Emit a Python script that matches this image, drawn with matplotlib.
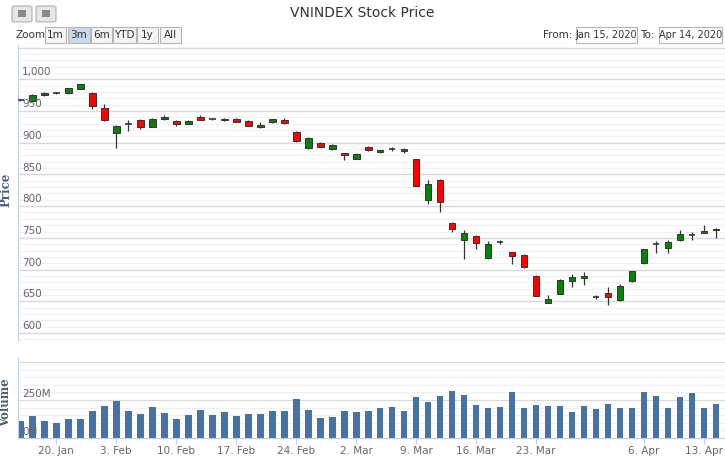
import matplotlib
matplotlib.use("Agg")
import matplotlib.pyplot as plt
from matplotlib.patches import Rectangle, FancyBboxPatch
import numpy as np

opens  = [967,966,975,978,978,985,978,955,915,929,935,925,937,934,930,940,937,938,938,934,924,932,936,917,891,900,890,883,875,894,
          885,890,887,874,810,841,774,746,753,718,743,727,723,690,648,662,682,686,657,663,652,682,710,741,734,746,755,758,764]
closes = [967,975,979,978,986,992,958,935,926,929.5,924,938,941,929,934,936,937,935,933,927,928,937,931,902,908,894,897,880,882,889,
          888,890.5,890,832,835,807,764,757,742,741,743,721,704,659,653,684,689,690,657,656,674,697,732,741,744,756,755,761,762]
highs  = [968,976,980,980,987,993,979.5,960.5,928,935,937,939,943,935,935,943,938,939,939,935,932,938,939,918,909,901,898,884,883,895,
          889,894,891,875,841,842,775,762,754,745,747,728,724,691,660,685,693,696,660,672,678,698,733,745,746,763,760,771,765]
lows   = [966,965,974,976,977,984,953,934,891,918,922,924,936,926,929,935,935,934,932,926,923,931,929,901,890,893,889,872,874,887,
          883,887,884,831,803,791,759,716,733,717,740,709,703,658,647,661,673,675,653,644,651,681,709,726,726,745,746,757,750]
volumes = [111,144,115,100,124,124,179,208,243,175,159,204,164,124,153,184,148,170,144,159,159,179,175,254,184,131,135,179,170,175,
           195,204,175,268,239,274,310,283,219,199,204,305,195,219,208,208,170,208,190,223,199,195,305,274,199,270,294,199,223]
tick_idx = [3,8,13,18,23,28,33,38,43,52,57]
tick_labels = ["20. Jan","3. Feb","10. Feb","17. Feb","24. Feb","2. Mar","9. Mar","16. Mar","23. Mar","6. Apr","13. Apr"]
price_ticks = [600,650,700,750,800,850,900,950,1000]

W,H = 725,458
fig = plt.figure(figsize=(W/100,H/100), dpi=100)
def ax_px(l,t,r,b):
    return fig.add_axes([l/W, 1-b/H, (r-l)/W, (b-t)/H])

x = np.arange(len(opens))
xl = (-0.17, 58.75)
axc = "#C0D0E0"
green, red = "#0A7F0A", "#FF0000"
FS = 7.5

ax = ax_px(18,45,725,340)
ax.set_xlim(*xl); ax.set_ylim(589,1054)
for p in range(590,1054,10):
    ax.axhline(p, color="#d8d8d8" if p%50==0 else "#f0f0f0", lw=1 if p%50==0 else 0.8, zorder=0)
w = 0.58
for i in x:
    o,c,h,l = opens[i],closes[i],highs[i],lows[i]
    col = green if c>=o else red
    ax.vlines(i, l, h, color="#333333", lw=0.9, zorder=2)
    bot, ht = min(o,c), abs(c-o)
    if ht < 1.2:
        ax.hlines((o+c)/2, i-w/2, i+w/2, color="#333333", lw=1.2, zorder=3)
    else:
        ax.add_patch(Rectangle((i-w/2,bot), w, ht, facecolor=col, edgecolor="#333333", lw=0.7, zorder=3))
for p in price_ticks:
    ax.text(0.006, p+3, f"{p:,}", transform=ax.get_yaxis_transform(), fontsize=FS, color="#666666", va="bottom", ha="left")
ax.set_xticks([]); ax.set_yticks([])
for s in ["top","right","bottom"]: ax.spines[s].set_visible(False)
ax.spines["left"].set_color(axc)
ax.patch.set_alpha(0)

av = ax_px(18,358,725,438)
av.set_xlim(*xl); av.set_ylim(0,526)
for v in range(0,526,50):
    av.axhline(v, color="#d8d8d8" if v in (0,250,500) else "#f0f0f0", lw=0.8, zorder=0)
av.bar(x, volumes, width=0.58, color="#4572A7", zorder=2)
av.text(0.006, 255, "250M", transform=av.get_yaxis_transform(), fontsize=FS, color="#666666", va="bottom")
av.text(0.006, 5, "0M", transform=av.get_yaxis_transform(), fontsize=FS, color="#666666", va="bottom", zorder=3)
av.set_yticks([])
av.set_xticks(tick_idx)
av.set_xticklabels(tick_labels, fontsize=FS, color="#666666")
av.tick_params(axis="x", length=4, color=axc, pad=2)
for s in ["top","right"]: av.spines[s].set_visible(False)
av.spines["left"].set_color(axc); av.spines["bottom"].set_color(axc)
av.patch.set_alpha(0)

fig.text(6/W, 1-190/H, "Price", rotation=90, fontsize=8.5, family="DejaVu Serif", weight="bold", color="#4d5f7a", va="center", ha="center")
fig.text(6/W, 1-403/H, "Volume", rotation=90, fontsize=8.5, family="DejaVu Serif", weight="bold", color="#4d5f7a", va="center", ha="center")
fig.text(0.5, 1-13/H, "VNINDEX Stock Price", fontsize=10, color="#333333", ha="center", va="center")

for lx in (12,36):
    fig.patches.append(FancyBboxPatch((lx/W,1-22/H),20/W,16/H, boxstyle="round,pad=0,rounding_size=0.004",
                        transform=fig.transFigure, facecolor="#e6e6e6", edgecolor="#b0b0b0", lw=0.8))
    fig.patches.append(Rectangle(((lx+6)/W,1-17/H),8/W,7/H, transform=fig.transFigure, facecolor="#8a8a8a", edgecolor="none"))

fig.text(16/W, 1-35/H, "Zoom", fontsize=FS, color="#333333", va="center")
btns = [("1m",45,66),("3m",68,90),("6m",91,112),("YTD",113,136),("1y",137,158),("All",160,181)]
for lab,l,r in btns:
    sel = lab=="3m"
    fig.patches.append(Rectangle((l/W,1-43/H),(r-l)/W,16/H, transform=fig.transFigure,
                       facecolor="#c9d9ec" if sel else "#f4f4f4", edgecolor="#b5b5b5", lw=0.8))
    fig.text((l+r)/2/W, 1-35/H, lab, fontsize=FS, color="#333333", ha="center", va="center")
fig.text(572/W, 1-35/H, "From:", fontsize=FS, color="#333333", va="center", ha="right")
fig.text(655/W, 1-35/H, "To:", fontsize=FS, color="#333333", va="center", ha="right")
for lab,l,r in [("Jan 15, 2020",576,637),("Apr 14, 2020",659,722)]:
    fig.patches.append(Rectangle((l/W,1-43/H),(r-l)/W,16/H, transform=fig.transFigure,
                       facecolor="white", edgecolor="#b5b5b5", lw=0.8))
    fig.text((l+r)/2/W, 1-35/H, lab, fontsize=7, color="#333333", ha="center", va="center")

fig.savefig("out.png", dpi=100)
